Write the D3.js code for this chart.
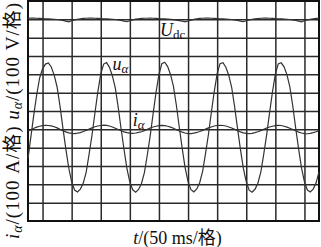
<!DOCTYPE html>
<html lang="zh">
<head>
<meta charset="utf-8">
<title>Udc / u_alpha / i_alpha waveform</title>
<script src="https://cdnjs.cloudflare.com/ajax/libs/d3/7.8.5/d3.min.js"></script>
<style>
  body { margin: 0; background: #fff; }
  svg { display: block; }
  text { font-family: "Liberation Serif", "Noto Sans CJK SC", serif; fill: #111; }
</style>
</head>
<body>
<script>
// scope screen: 10 time divisions, 12 vertical divisions
var step = 0.1;   // sample spacing in divisions

// grid line positions (in divisions)
var vGrid = [0.5, 1.5, 2.5, 3.5, 4.5, 5.5, 6.5, 7.5, 8.5, 9.5];
var hGrid = [1, 2, 3, 4, 5, 6, 7, 8, 9, 10, 11];

// u_alpha, one value per 0.1 div
var uAlpha = [3.40, 4.60, 5.80, 6.90, 7.80, 8.30, 8.56,
  8.62, 8.40, 7.96, 7.31, 6.27, 5.07, 3.93, 2.89, 2.13, 1.69, 1.58, 1.74, 2.07, 2.67, 3.65, 4.69, 5.89, 7.04, 8.02, 8.56,
  8.64, 8.38, 7.92, 7.26, 6.20, 5.02, 3.90, 2.86, 2.12, 1.70, 1.57, 1.72, 2.05, 2.64, 3.60, 4.66, 5.86, 7.02, 8.00, 8.58,
  8.66, 8.42, 7.98, 7.33, 6.30, 5.10, 3.95, 2.90, 2.15, 1.71, 1.59, 1.75, 2.09, 2.70, 3.68, 4.72, 5.92, 7.06, 8.04, 8.58,
  8.63, 8.39, 7.94, 7.28, 6.24, 5.05, 3.91, 2.88, 2.14, 1.68, 1.57, 1.73, 2.06, 2.66, 3.63, 4.68, 5.88, 7.03, 8.01, 8.57,
  8.63, 8.41, 7.97, 7.30, 6.26, 5.06, 3.92, 2.88, 2.13, 1.69, 1.58, 1.74, 2.08, 2.68];

// i_alpha
var iAlpha = [4.90, 4.98, 5.06, 5.12, 5.17, 5.20,
  5.22, 5.21, 5.19, 5.14, 5.08, 5.00, 4.93, 4.86, 4.81, 4.78, 4.77, 4.79, 4.82, 4.88, 4.94, 5.01, 5.08, 5.14, 5.18, 5.21,
  5.23, 5.22, 5.18, 5.13, 5.06, 4.99, 4.92, 4.86, 4.82, 4.79, 4.78, 4.80, 4.83, 4.87, 4.93, 5.00, 5.07, 5.13, 5.17, 5.20,
  5.22, 5.20, 5.17, 5.12, 5.06, 4.98, 4.91, 4.85, 4.80, 4.77, 4.77, 4.79, 4.83, 4.88, 4.94, 5.01, 5.08, 5.13, 5.18, 5.21,
  5.22, 5.21, 5.18, 5.13, 5.07, 5.00, 4.92, 4.86, 4.81, 4.78, 4.77, 4.78, 4.82, 4.87, 4.93, 5.00, 5.07, 5.13, 5.17, 5.20,
  5.22, 5.21, 5.17, 5.12, 5.06, 4.99, 4.92, 4.85, 4.80, 4.77, 4.76, 4.78, 4.82, 4.87, 4.93];

// U_dc
var uDc = [11.06, 11.07, 11.07, 11.06, 11.05, 11.04, 11.03, 11.02, 11.01, 11.00, 10.99, 10.97, 10.94, 10.90,
  10.86, 10.92, 10.97, 11.00, 11.03, 11.05, 11.06, 11.07, 11.07, 11.06, 11.05, 11.04, 11.03, 11.02, 11.01, 11.00, 10.99, 10.97, 10.94, 10.90,
  10.87, 10.92, 10.97, 11.01, 11.03, 11.05, 11.06, 11.06, 11.07, 11.06, 11.05, 11.04, 11.03, 11.02, 11.01, 11.00, 10.98, 10.96, 10.93, 10.90,
  10.86, 10.91, 10.96, 11.00, 11.03, 11.05, 11.06, 11.07, 11.07, 11.06, 11.05, 11.04, 11.03, 11.02, 11.01, 11.00, 10.99, 10.97, 10.94, 10.90,
  10.87, 10.92, 10.97, 11.00, 11.02, 11.04, 11.06, 11.07, 11.07, 11.06, 11.05, 11.04, 11.03, 11.02, 11.01, 11.00, 10.99, 10.97, 10.94, 10.90,
  10.86, 10.92, 10.97, 11.00, 11.03, 11.05, 11.06];

var w = 321, h = 247;
var margin = {top: 1, right: 2, bottom: 26, left: 28};
var pw = w - margin.left - margin.right;
var ph = h - margin.top - margin.bottom;

var x = d3.scaleLinear().domain([0, 10]).range([margin.left, margin.left + pw]);
var y = d3.scaleLinear().domain([0, 12]).range([margin.top + ph, margin.top]);

var svg = d3.select("body").append("svg")
    .attr("width", w)
    .attr("height", h);

// grid
var gx = svg.append("g")
    .attr("transform", "translate(0," + (margin.top + ph) + ")")
    .call(d3.axisBottom(x).tickValues(vGrid).tickSize(-ph).tickFormat(""));
var gy = svg.append("g")
    .attr("transform", "translate(" + margin.left + ",0)")
    .call(d3.axisLeft(y).tickValues(hGrid).tickSize(-pw).tickFormat(""));
[gx, gy].forEach(function(g) {
  g.select(".domain").remove();
  g.selectAll(".tick line").attr("stroke", "#2a2a2a").attr("stroke-width", 1.5);
});

// frame
svg.append("rect")
    .attr("x", margin.left)
    .attr("y", margin.top)
    .attr("width", pw)
    .attr("height", ph)
    .attr("fill", "none")
    .attr("stroke", "#111")
    .attr("stroke-width", 2);

var line = d3.line()
    .x(function(d, i) { return x(i * step); })
    .y(function(d) { return y(d); });

[uDc, uAlpha, iAlpha].forEach(function(s) {
  svg.append("path")
      .datum(s)
      .attr("d", line)
      .attr("fill", "none")
      .attr("stroke", "#333")
      .attr("stroke-width", 1.2);
});

// trace labels
function traceLabel(px, py, main, sub, subItalic) {
  var t = svg.append("text").attr("x", px).attr("y", py).style("font-size", "18px");
  t.append("tspan").style("font-style", "italic").text(main);
  t.append("tspan").attr("dy", 3).style("font-size", "13px")
      .style("font-style", subItalic ? "italic" : "normal").text(sub);
}
traceLabel(x(4.54), y(10.1), "U", "dc", false);
traceLabel(x(2.9), y(8.25), "u", "\u03b1", true);
traceLabel(x(3.6), y(5.2), "i", "\u03b1", true);

// axis titles
var xt = svg.append("text")
    .attr("x", x(5.14))
    .attr("y", 244)
    .attr("text-anchor", "middle")
    .style("font-size", "18px");
xt.append("tspan").style("font-style", "italic").text("t");
xt.append("tspan").text("/(50 ms/格)");

var yt = svg.append("text")
    .attr("transform", "translate(19,121) rotate(-90)")
    .attr("text-anchor", "middle")
    .attr("textLength", 236)
    .attr("lengthAdjust", "spacing")
    .style("font-size", "19px");
yt.append("tspan").style("font-style", "italic").text("i");
yt.append("tspan").style("font-style", "italic").style("font-size", "14px").attr("dy", 3).text("\u03b1");
yt.append("tspan").attr("dy", -3).text("/(100 A/格) ");
yt.append("tspan").style("font-style", "italic").text("u");
yt.append("tspan").style("font-style", "italic").style("font-size", "14px").attr("dy", 3).text("\u03b1");
yt.append("tspan").attr("dy", -3).text("/(100 V/格)");
</script>
</body>
</html>
